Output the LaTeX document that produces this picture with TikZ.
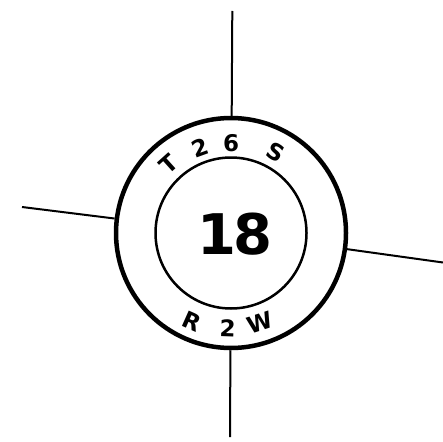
\documentclass[tikz,border=0pt]{standalone}
\usepackage{fontspec}
\setmainfont{DejaVu Sans}
\usetikzlibrary{calc}
\begin{document}
\begin{tikzpicture}[x=1pt,y=1pt,
  ring/.style={circle,draw,inner sep=0pt},
  lbl/.style={inner sep=0pt,font=\fontsize{23}{23}\selectfont\bfseries},
  leg/.style={line width=2pt}]
\useasboundingbox (0,0) rectangle (443,-441);
\coordinate (c) at (231,-233);
\node[ring,line width=4.5pt,minimum size=230pt] (o) at (c) {};
\node[ring,line width=2.5pt,minimum size=151pt] (i) at (c) {};
\node[inner sep=0pt,font=\fontsize{56}{56}\selectfont\bfseries] (num) at (235,-234) {1\kern-3pt8};
\coordinate (tp) at (232.3,-11);
\coordinate (bt) at (230,-437);
\coordinate (lf) at (22,-207);
\coordinate (rt) at (443,-262.5);
\draw[leg] (tp) -- (o);
\draw[leg] (bt) -- (o);
\draw[leg] (lf) -- (o);
\draw[leg] (rt) -- (o);
\node[lbl,rotate=42] (t1) at ($(c)+(132:93)$) {T};
\node[lbl,rotate=20] (t2) at ($(c)+(110:91)$) {2};
\node[lbl,rotate=0] (t3) at ($(c)+(90:90)$) {6};
\node[lbl,rotate=-29] (t4) at ($(c)+(61:92)$) {S};
\node[lbl,rotate=-24] (b1) at ($(c)+(-114:97)$) {R};
\node[lbl,rotate=-2] (b2) at ($(c)+(-92:95)$) {2};
\node[lbl,rotate=18] (b3) at ($(c)+(-72:94)$) {W};
\end{tikzpicture}
\end{document}
